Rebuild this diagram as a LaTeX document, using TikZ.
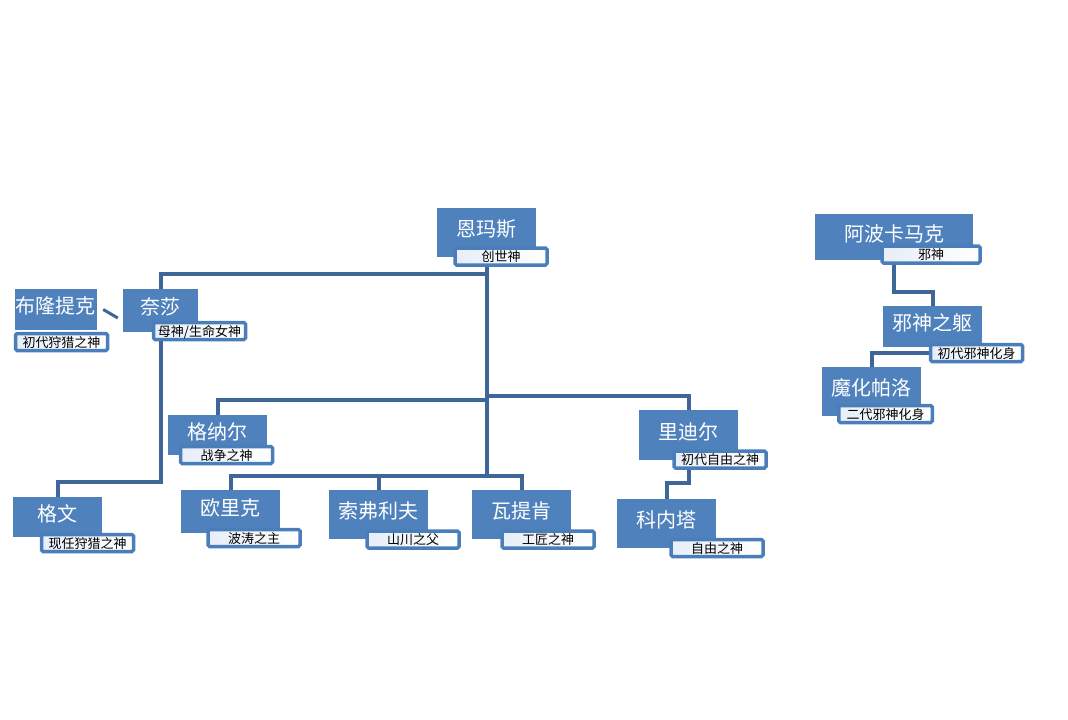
\documentclass[tikz,border=0pt]{standalone}
\usepackage{fontspec}
\newfontfamily\cjk{Noto Sans CJK SC}
\usepackage{xcolor}
\usetikzlibrary{positioning,backgrounds,calc}
\definecolor{godblue}{HTML}{4F81BD}
\definecolor{tagblue}{HTML}{4A7EBB}
\definecolor{linkblue}{HTML}{3F6698}
\definecolor{tagfill}{HTML}{E6EEF8}

\begin{document}
\begin{tikzpicture}[
  x=1pt, y=-1pt,
  god/.style={fill=godblue, inner sep=0pt, minimum height=49pt,
              text height=16pt, text depth=8pt,
              font=\cjk\fontsize{20}{24}\selectfont, text=white},
  tag/.style={draw=tagblue, line width=3.5pt, rounded corners=1.5pt,
              left color=tagfill, right color=white, inner sep=0pt,
              minimum width=92pt, minimum height=17pt,
              text height=10pt, text depth=0pt,
              font=\cjk\fontsize{13}{15}\selectfont},
  link/.style={draw=linkblue, line width=4pt}
]
\useasboundingbox (0,0) rectangle (1068,720);

% Creator and first generation
\node[god, minimum width=99pt] (enmasi) at (486.5,232.5) {恩玛斯};
\node[tag] (enmasi-t) at (501,256.5) {创世神};

\node[god, minimum width=82pt, minimum height=41pt] (bulong) at (56,309.5) {布隆提克};
\node[tag] (bulong-t) at (61.5,342) {初代狩猎之神};

\node[god, minimum width=75pt, minimum height=43pt] (naisha) at (160.5,310.5) {奈莎};
\node[tag] (naisha-t) at (199.5,331) {母神/生命女神};

\node[god, minimum width=99pt, minimum height=40pt] (genaer) at (217.5,435) {格纳尔};
\node[tag] (genaer-t) at (226.5,455) {战争之神};

\node[god, minimum width=99pt, minimum height=50pt] (lidier) at (688.5,435) {里迪尔};
\node[tag] (lidier-t) at (720,459.5) {初代自由之神};

% Lower row
\node[god, minimum width=89pt, minimum height=40pt] (gewen) at (57.5,517) {格文};
\node[tag] (gewen-t) at (87.5,543) {现任狩猎之神};

\node[god, minimum width=99pt, minimum height=43pt] (oulike) at (230.5,511.5) {欧里克};
\node[tag] (oulike-t) at (254,538) {波涛之主};

\node[god, minimum width=99pt] (suofulifu) at (378.5,514.5) {索弗利夫};
\node[tag] (suofulifu-t) at (413,539.5) {山川之父};

\node[god, minimum width=99pt] (watiken) at (521.5,514.5) {瓦提肯};
\node[tag] (watiken-t) at (548,539.5) {工匠之神};

\node[god, minimum width=99pt] (keneita) at (666.5,523.5) {科内塔};
\node[tag] (keneita-t) at (717,548) {自由之神};

% Evil line
\node[god, minimum width=158pt, minimum height=46pt] (abo) at (894,237) {阿波卡马克};
\node[tag, minimum width=98pt] (abo-t) at (931,254.5) {邪神};

\node[god, minimum width=99pt, minimum height=41pt] (xieshen) at (932.5,326.5) {邪神之躯};
\node[tag] (xieshen-t) at (976.5,353) {初代邪神化身};

\node[god, minimum width=99pt] (mohua) at (871.5,391.5) {魔化帕洛};
\node[tag, minimum width=93.5pt] (mohua-t) at (885.5,414) {二代邪神化身};

% Connectors behind the boxes
\begin{scope}[on background layer]
\coordinate (barA) at (0,274);
\coordinate (barB) at (0,400);
\coordinate (barC) at (0,396);
\coordinate (barD) at (0,476);
\coordinate (barE) at (0,482);
\coordinate (barF) at (0,483);
\coordinate (barG) at (0,292);

\draw[link] (enmasi.center) -- (enmasi |- barD);
\draw[link] (enmasi |- barA) -| (naisha.north);
\draw[link] (naisha.center) |- (barE -| gewen) -- (gewen.north);
\draw[link] (enmasi |- barB) -| (genaer.north);
\draw[link] (enmasi |- barC) -| (lidier.north);
\draw[link] (oulike.north) |- (barD -| watiken) -- (watiken.north);
\draw[link] (barD -| suofulifu) -- (suofulifu.north);
\draw[link] (lidier.center) |- (barF -| keneita) -- (keneita.north);
\draw[link] (abo.center) |- (barG -| xieshen) -- (xieshen.north);
\draw[link] (xieshen-t.west) -| (mohua.north);
\draw[link, line width=3pt] ([xshift=6pt]bulong.east) -- ([xshift=-5pt,yshift=-7.5pt]naisha.west);
\end{scope}

\end{tikzpicture}
\end{document}
